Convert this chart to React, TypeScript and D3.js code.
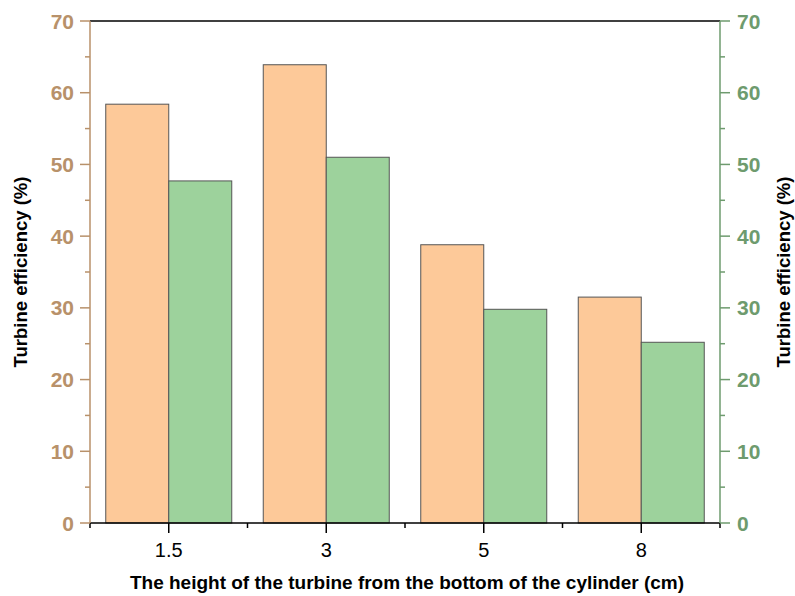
import React from "react";
import * as d3 from "d3";

const categories = ["1.5", "3", "5", "8"];
const seriesA = [58.4, 63.9, 38.8, 31.5];
const seriesB = [47.7, 51.0, 29.8, 25.2];
const yTicks = [0, 10, 20, 30, 40, 50, 60, 70];
const yMinorTicks = [5, 15, 25, 35, 45, 55, 65];
const xTitle = "The height of the turbine from the bottom of the cylinder (cm)";
const yTitle = "Turbine efficiency (%)";

const W = 795, H = 596;
const L = 90, R = 720, T = 21, B = 523;
const brown = "#b8916a";
const green = "#6e9b6e";
const font = "Arial, 'Liberation Sans', sans-serif";

export default function App() {
  const x = d3.scaleBand<string>().domain(categories).range([L, R]).paddingInner(0).paddingOuter(0);
  const y = d3.scaleLinear().domain([0, 70]).range([B, T]);
  const bw = x.bandwidth();
  const barW = bw * 0.4;
  return (
    <svg width={W} height={H} style={{ position: "absolute", left: 0, top: 0 }} fontFamily={font}>
      <rect x={0} y={0} width={W} height={H} fill="#fff" />
      {categories.map((c, i) => {
        const cx = (x(c) as number) + bw / 2;
        return (
          <g key={c}>
            <rect x={cx - barW} y={y(seriesA[i])} width={barW} height={B - y(seriesA[i])} fill="#fdc999" stroke="#555" strokeWidth={1} />
            <rect x={cx} y={y(seriesB[i])} width={barW} height={B - y(seriesB[i])} fill="#9dd29c" stroke="#555" strokeWidth={1} />
          </g>
        );
      })}
      {/* top frame */}
      <line x1={L} x2={R} y1={T} y2={T} stroke="#000" strokeWidth={1.5} />
      {/* bottom axis */}
      <line x1={L} x2={R} y1={B} y2={B} stroke="#000" strokeWidth={1.5} />
      {categories.map((c) => {
        const cx = (x(c) as number) + bw / 2;
        return (
          <g key={"xt" + c}>
            <line x1={cx} x2={cx} y1={B} y2={B + 10} stroke="#000" strokeWidth={1.5} />
            <text x={cx} y={557} textAnchor="middle" fontSize={20} fill="#000">{c}</text>
          </g>
        );
      })}
      {d3.range(categories.length + 1).map((i) => {
        const xx = L + i * bw;
        return <line key={"xm" + i} x1={xx} x2={xx} y1={B} y2={B + 5} stroke="#000" strokeWidth={1.5} />;
      })}
      {/* left axis */}
      <line x1={L} x2={L} y1={T} y2={B} stroke={brown} strokeWidth={1.5} />
      {yTicks.map((t) => (
        <g key={"yl" + t}>
          <line x1={L - 10} x2={L} y1={y(t)} y2={y(t)} stroke={brown} strokeWidth={1.5} />
          <text x={L - 16} y={y(t) + 7.5} textAnchor="end" fontSize={21} fontWeight="bold" fill={brown}>{t}</text>
        </g>
      ))}
      {yMinorTicks.map((t) => (
        <line key={"ylm" + t} x1={L - 5} x2={L} y1={y(t)} y2={y(t)} stroke={brown} strokeWidth={1.5} />
      ))}
      {/* right axis */}
      <line x1={R} x2={R} y1={T} y2={B} stroke={green} strokeWidth={1.5} />
      {yTicks.map((t) => (
        <g key={"yr" + t}>
          <line x1={R} x2={R + 10} y1={y(t)} y2={y(t)} stroke={green} strokeWidth={1.5} />
          <text x={R + 17} y={y(t) + 7.5} textAnchor="start" fontSize={21} fontWeight="bold" fill={green}>{t}</text>
        </g>
      ))}
      {yMinorTicks.map((t) => (
        <line key={"yrm" + t} x1={R} x2={R + 5} y1={y(t)} y2={y(t)} stroke={green} strokeWidth={1.5} />
      ))}
      {/* titles */}
      <text x={(L + R) / 2 + 2} y={589} textAnchor="middle" fontSize={19} fontWeight="bold" fill="#000">{xTitle}</text>
      <text transform={`translate(27,${(T + B) / 2}) rotate(-90)`} textAnchor="middle" fontSize={18.5} fontWeight="bold" fill="#000">{yTitle}</text>
      <text transform={`translate(790,${(T + B) / 2}) rotate(-90)`} textAnchor="middle" fontSize={18.5} fontWeight="bold" fill="#000">{yTitle}</text>
    </svg>
  );
}
